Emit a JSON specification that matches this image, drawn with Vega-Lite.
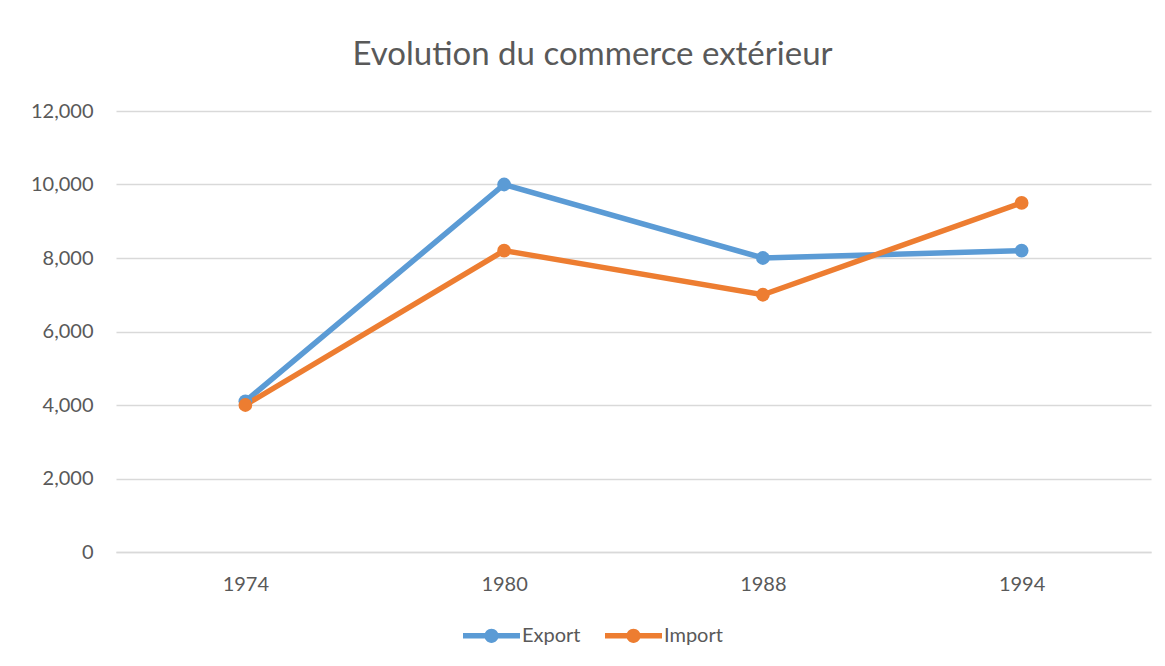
{
  "$schema": "https://vega.github.io/schema/vega-lite/v6.json",
  "width": 1035,
  "height": 441,
  "autosize": {"type": "none"},
  "padding": {"left": 116, "top": 111, "right": 14, "bottom": 114},
  "background": "white",
  "config": {
    "font": "Lato",
    "view": {"stroke": null}
  },
  "title": {
    "text": "Evolution du commerce extérieur",
    "fontSize": 33,
    "font": "Lato",
    "fontWeight": "normal",
    "color": "#595959",
    "anchor": "middle",
    "dx": -41,
    "offset": 29
  },
  "data": {
    "values": [
      {"year": "1974", "series": "Export", "value": 4100},
      {"year": "1980", "series": "Export", "value": 10000},
      {"year": "1988", "series": "Export", "value": 8000},
      {"year": "1994", "series": "Export", "value": 8200},
      {"year": "1974", "series": "Import", "value": 4000},
      {"year": "1980", "series": "Import", "value": 8200},
      {"year": "1988", "series": "Import", "value": 7000},
      {"year": "1994", "series": "Import", "value": 9500}
    ]
  },
  "encoding": {
    "x": {
      "field": "year",
      "type": "ordinal",
      "scale": {"type": "point", "padding": 0.5},
      "axis": {
        "title": null,
        "labelAngle": 0,
        "labelFontSize": 20,
        "labelColor": "#595959",
        "labelFont": "Lato",
        "labelPadding": 22,
        "ticks": false,
        "domainColor": "#d9d9d9",
        "domainWidth": 1.5,
        "grid": false
      }
    },
    "y": {
      "field": "value",
      "type": "quantitative",
      "scale": {"domain": [0, 12000], "nice": false},
      "axis": {
        "title": null,
        "values": [0, 2000, 4000, 6000, 8000, 10000, 12000],
        "format": ",.0f",
        "labelFontSize": 20,
        "labelColor": "#595959",
        "labelFont": "Lato",
        "labelPadding": 23,
        "ticks": false,
        "domain": false,
        "gridColor": "#d9d9d9",
        "gridWidth": 1.5
      }
    },
    "color": {
      "field": "series",
      "type": "nominal",
      "scale": {"domain": ["Export", "Import"], "range": ["#5B9BD5", "#ED7D31"]},
      "legend": {
        "title": null,
        "orient": "none",
        "legendX": 347,
        "legendY": 496,
        "direction": "horizontal",
        "labelFontSize": 20,
        "labelColor": "#595959",
        "labelFont": "Lato",
        "symbolType": "M-1,-0.095H1V0.095H-1Z M0.25,0A0.25,0.25 0 1 1 -0.25,0A0.25,0.25 0 1 1 0.25,0Z",
        "symbolSize": 3249,
        "symbolStrokeWidth": 0,
        "labelOffset": 2,
        "columnPadding": 24
      }
    }
  },
  "layer": [
    {
      "mark": {"type": "line", "strokeWidth": 5.5, "strokeCap": "round"},
      "encoding": {}
    },
    {
      "mark": {"type": "point", "filled": true, "size": 190, "opacity": 1},
      "encoding": {}
    }
  ]
}
